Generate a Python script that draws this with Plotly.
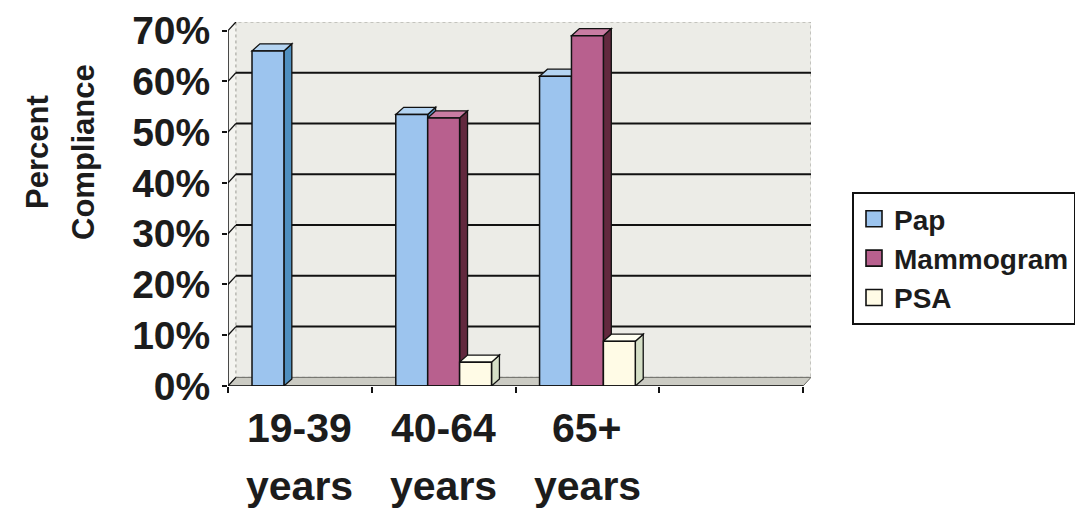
import plotly.graph_objects as go

# ---- data -------------------------------------------------------------
AGE_GROUPS = ["19-39", "40-64", "65+"]
AGE_UNIT = "years"
SERIES_NAMES = ["Pap", "Mammogram", "PSA"]
PAP = [66, 53.5, 61]
MAMMOGRAM = [None, 52.8, 69]
PSA = [None, 4.7, 8.8]
Y_TICKS = [0, 10, 20, 30, 40, 50, 60, 70]
Y_TICK_LABELS = [f"{v}%" for v in Y_TICKS]
Y_TITLE_LINES = ["Percent", "Compliance"]

# ---- styling ------------------------------------------------------------
FONT = "Liberation Sans, Arial, sans-serif"
INK = "#1c1c1c"
# front, side and top face colours for each series
FACE_COLORS = {
    "Pap": ("#9cc4ee", "#4f8fbf", "#b4d4f2"),
    "Mammogram": ("#b8608e", "#62293e", "#c97ca2"),
    "PSA": ("#fffbe6", "#d5dfc6", "#fffff2"),
}
N_SLOTS = 4                      # three age groups plus one empty slot
X_MIN, X_MAX = -0.5, N_SLOTS - 0.5
Y_MAX = 70
WALL_DX, WALL_DY = 0.055, 1.7    # depth of the floor / side wall
BAR_DX, BAR_DY = 0.055, 1.4      # depth of each column
BAR_W = 0.222

L, R, T, B = 228, 264, 22, 122
W, H = 1075, 508
plot_w = W - L - R
plot_h = H - T - B


def px_to_paper_x(px):
    return (px - L) / plot_w


def px_to_paper_y(py):
    return (H - B - py) / plot_h


fig = go.Figure()

xs = list(range(len(AGE_GROUPS)))
values = {"Pap": PAP, "Mammogram": MAMMOGRAM, "PSA": PSA}

shapes = []

# side wall, back wall and floor of the 3-D box
shapes.append(dict(
    type="path", xref="x", yref="y", layer="below",
    path=(f"M{X_MIN},0 L{X_MIN + WALL_DX},{WALL_DY} "
          f"L{X_MIN + WALL_DX},{Y_MAX + WALL_DY} L{X_MIN},{Y_MAX} Z"),
    fillcolor="#f4f4f0", line=dict(width=0),
))
shapes.append(dict(
    type="rect", xref="x", yref="y", layer="below",
    x0=X_MIN + WALL_DX, x1=X_MAX + WALL_DX, y0=WALL_DY, y1=Y_MAX + WALL_DY,
    fillcolor="#ececE7", line=dict(color="#9a9a94", width=1, dash="dot"),
))
shapes.append(dict(
    type="path", xref="x", yref="y", layer="below",
    path=(f"M{X_MIN},0 L{X_MAX},0 L{X_MAX + WALL_DX},{WALL_DY} "
          f"L{X_MIN + WALL_DX},{WALL_DY} Z"),
    fillcolor="#cbcbc3", line=dict(color="#6a6a64", width=1),
))

# gridlines on the back wall and the slanted links to the axis ticks
for v in Y_TICKS:
    if 0 < v < Y_MAX:
        shapes.append(dict(
            type="line", xref="x", yref="y", layer="below",
            x0=X_MIN + WALL_DX, x1=X_MAX + WALL_DX,
            y0=v + WALL_DY, y1=v + WALL_DY,
            line=dict(color="#111111", width=2),
        ))
    shapes.append(dict(
        type="line", xref="x", yref="y", layer="below",
        x0=X_MIN, x1=X_MIN + WALL_DX, y0=v, y1=v + WALL_DY,
        line=dict(color="#111111", width=1.3),
    ))

# side and top faces of every column
for xi in xs:
    for si, name in enumerate(SERIES_NAMES):
        v = values[name][xi]
        if v is None:
            continue
        _, side_c, top_c = FACE_COLORS[name]
        xl = xi + (si - 1.5) * BAR_W
        xr = xl + BAR_W
        shapes.append(dict(
            type="path", xref="x", yref="y", layer="below",
            path=(f"M{xr},0 L{xr},{v} L{xr + BAR_DX},{v + BAR_DY} "
                  f"L{xr + BAR_DX},{BAR_DY} Z"),
            fillcolor=side_c, line=dict(color="#111111", width=1.3),
        ))
        shapes.append(dict(
            type="path", xref="x", yref="y", layer="below",
            path=(f"M{xl},{v} L{xl + BAR_DX},{v + BAR_DY} "
                  f"L{xr + BAR_DX},{v + BAR_DY} L{xr},{v} Z"),
            fillcolor=top_c, line=dict(color="#111111", width=1.3),
        ))

# front axis lines
shapes.append(dict(type="line", xref="x", yref="y", layer="above",
                   x0=X_MIN, x1=X_MIN, y0=0, y1=Y_MAX,
                   line=dict(color="#111111", width=1.5)))
shapes.append(dict(type="line", xref="x", yref="y", layer="above",
                   x0=X_MIN, x1=X_MAX, y0=0, y1=0,
                   line=dict(color="#111111", width=1.5)))

# front faces of the columns, plus a square legend key per series
for si, name in enumerate(SERIES_NAMES):
    front_c, _, _ = FACE_COLORS[name]
    fig.add_trace(go.Bar(
        name=name, x=xs, y=values[name],
        width=BAR_W, offset=(si - 1.5) * BAR_W,
        marker=dict(color=front_c, line=dict(color="#111111", width=1.5)),
        legendgroup=name, showlegend=False,
        hovertemplate="%{y}%<extra>" + name + "</extra>",
    ))
    fig.add_trace(go.Scatter(
        name=name, x=[None], y=[None], mode="markers",
        marker=dict(symbol="square", size=17, color=front_c,
                    line=dict(color="#111111", width=1.6)),
        legendgroup=name, showlegend=True, hoverinfo="skip",
    ))

annotations = []
for xi, g in zip(xs, AGE_GROUPS):
    annotations.append(dict(
        x=xi, xref="x", y=px_to_paper_y(428), yref="paper",
        text=g, showarrow=False, xanchor="center", yanchor="middle",
        font=dict(family=FONT, size=41, color=INK, weight="bold"),
    ))
    annotations.append(dict(
        x=xi, xref="x", y=px_to_paper_y(486), yref="paper",
        text=AGE_UNIT, showarrow=False, xanchor="center", yanchor="middle",
        font=dict(family=FONT, size=41, color=INK, weight="bold"),
    ))
for line, cx in zip(Y_TITLE_LINES, [38, 84]):
    annotations.append(dict(
        x=px_to_paper_x(cx), xref="paper", y=px_to_paper_y(152),
        yref="paper", text=line, textangle=-90, showarrow=False,
        xanchor="center", yanchor="middle",
        font=dict(family=FONT, size=31, color=INK, weight="bold"),
    ))

fig.update_layout(
    width=W, height=H,
    margin=dict(l=L, r=R, t=T, b=B, autoexpand=False),
    paper_bgcolor="white", plot_bgcolor="white",
    barmode="overlay",
    shapes=shapes,
    annotations=annotations,
    showlegend=True,
    legend=dict(
        x=px_to_paper_x(852), y=px_to_paper_y(192),
        xanchor="left", yanchor="top",
        bgcolor="white", bordercolor="#111111", borderwidth=2,
        font=dict(family=FONT, size=28, color=INK, weight="bold"),
        traceorder="normal", itemwidth=30, itemsizing="trace",
    ),
    xaxis=dict(
        range=[X_MIN, X_MAX + WALL_DX],
        tickvals=[X_MIN + k for k in range(N_SLOTS + 1)],
        ticktext=[""] * (N_SLOTS + 1),
        ticks="outside", ticklen=6, tickwidth=1.5, tickcolor="#111111",
        showgrid=False, zeroline=False, showline=False, fixedrange=True,
    ),
    yaxis=dict(
        range=[0, Y_MAX + WALL_DY],
        tickvals=Y_TICKS, ticktext=Y_TICK_LABELS,
        ticks="outside", ticklen=5, tickwidth=1.5, tickcolor="#111111",
        tickfont=dict(family=FONT, size=39, color=INK, weight="bold"),
        ticklabelstandoff=4,
        showgrid=False, zeroline=False, showline=False, fixedrange=True,
    ),
)

fig.write_html("out.html")
